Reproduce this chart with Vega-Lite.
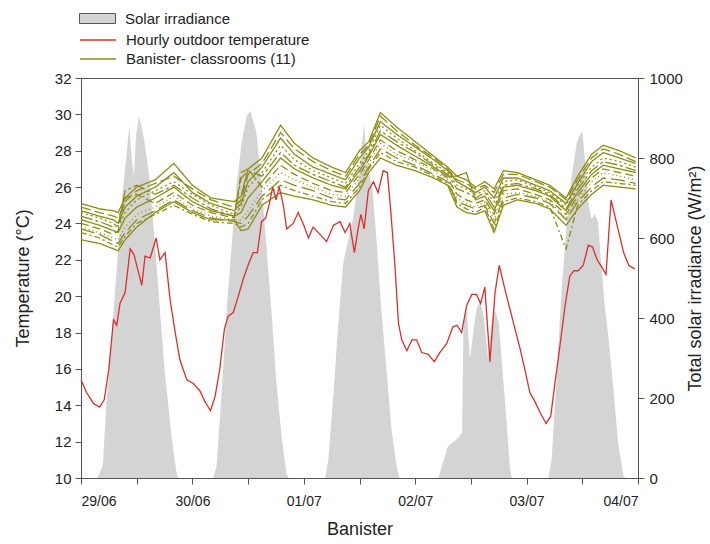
{
  "$schema": "https://vega.github.io/schema/vega-lite/v6.json",
  "width": 557,
  "height": 400,
  "autosize": {"type": "none"},
  "padding": {"left": 81, "top": 78, "right": 72, "bottom": 66},
  "background": "white",
  "config": {
    "font": "Liberation Sans",
    "view": {"stroke": "#555", "strokeWidth": 1},
    "axis": {
      "grid": false,
      "labelFont": "Liberation Sans",
      "titleFont": "Liberation Sans",
      "labelFontSize": 15,
      "titleFontSize": 18,
      "titleFontWeight": "normal",
      "labelColor": "#222",
      "titleColor": "#222",
      "domainColor": "#555",
      "tickColor": "#555",
      "tickSize": 6,
      "labelOverlap": false
    },
    "legend": {
      "labelFont": "Liberation Sans",
      "labelFontSize": 15,
      "labelColor": "#222",
      "labelLimit": 500,
      "padding": 0,
      "offset": 0
    }
  },
  "datasets": {
    "solar": [
      {"h": 0, "s": 0}, {"h": 3.5, "s": 0}, {"h": 4.7, "s": 30}, {"h": 5.4, "s": 172}, {"h": 6.5, "s": 338},
      {"h": 7.6, "s": 505}, {"h": 8.6, "s": 672}, {"h": 9.7, "s": 797}, {"h": 10.4, "s": 880}, {"h": 10.9, "s": 800},
      {"h": 11.4, "s": 755}, {"h": 11.9, "s": 860}, {"h": 12.5, "s": 905}, {"h": 13.6, "s": 847}, {"h": 14.7, "s": 755},
      {"h": 15.8, "s": 605}, {"h": 16.9, "s": 438}, {"h": 18, "s": 272}, {"h": 19.5, "s": 105}, {"h": 20.6, "s": 12},
      {"h": 21, "s": 0}, {"h": 28.5, "s": 0}, {"h": 29.2, "s": 30}, {"h": 30.3, "s": 213}, {"h": 31.4, "s": 422},
      {"h": 32.5, "s": 588}, {"h": 33.5, "s": 730}, {"h": 34.6, "s": 838}, {"h": 35.7, "s": 905}, {"h": 36.5, "s": 918},
      {"h": 37.8, "s": 863}, {"h": 38.9, "s": 730}, {"h": 40, "s": 572}, {"h": 41.1, "s": 405}, {"h": 42.1, "s": 238},
      {"h": 43.2, "s": 105}, {"h": 44.3, "s": 10}, {"h": 44.8, "s": 0}, {"h": 52.6, "s": 0}, {"h": 53.3, "s": 47},
      {"h": 54.4, "s": 213}, {"h": 55.4, "s": 380}, {"h": 56.5, "s": 538}, {"h": 57.2, "s": 575}, {"h": 58.7, "s": 655},
      {"h": 59.7, "s": 740}, {"h": 60.5, "s": 830}, {"h": 61, "s": 885}, {"h": 61.5, "s": 800}, {"h": 62.2, "s": 755},
      {"h": 62.8, "s": 720}, {"h": 63.7, "s": 588}, {"h": 64.7, "s": 422}, {"h": 65.8, "s": 272}, {"h": 66.9, "s": 122},
      {"h": 68, "s": 30}, {"h": 68.6, "s": 0}, {"h": 77, "s": 0}, {"h": 78, "s": 40}, {"h": 79.1, "s": 80},
      {"h": 80, "s": 88}, {"h": 81, "s": 97}, {"h": 82.1, "s": 113}, {"h": 82.4, "s": 390}, {"h": 83.1, "s": 420},
      {"h": 83.8, "s": 297}, {"h": 84.5, "s": 363}, {"h": 85.2, "s": 422}, {"h": 86, "s": 445}, {"h": 86.8, "s": 400},
      {"h": 87.7, "s": 300}, {"h": 88.4, "s": 380}, {"h": 89.2, "s": 420}, {"h": 90, "s": 390}, {"h": 90.6, "s": 300},
      {"h": 91.7, "s": 140}, {"h": 92.4, "s": 25}, {"h": 92.8, "s": 0}, {"h": 100.7, "s": 0}, {"h": 101.4, "s": 47},
      {"h": 102.5, "s": 255}, {"h": 103.5, "s": 463}, {"h": 104.6, "s": 630}, {"h": 105.7, "s": 755}, {"h": 106.8, "s": 838},
      {"h": 107.6, "s": 860}, {"h": 108, "s": 867}, {"h": 108.6, "s": 790}, {"h": 109.3, "s": 688}, {"h": 110, "s": 647},
      {"h": 110.7, "s": 660}, {"h": 111.4, "s": 640}, {"h": 112.1, "s": 530}, {"h": 112.9, "s": 422}, {"h": 113.6, "s": 355},
      {"h": 114.7, "s": 222}, {"h": 115.7, "s": 88}, {"h": 116.9, "s": 5}, {"h": 117.3, "s": 0}, {"h": 120, "s": 0}
    ],
    "outdoor": [
      {"h": 0, "t": 15.4}, {"h": 1.2, "t": 14.7}, {"h": 2.7, "t": 14.1}, {"h": 4, "t": 13.9}, {"h": 5, "t": 14.3},
      {"h": 6, "t": 16.0}, {"h": 7, "t": 18.7}, {"h": 7.7, "t": 18.4}, {"h": 8.4, "t": 19.6}, {"h": 9.5, "t": 20.2},
      {"h": 10.6, "t": 22.6}, {"h": 11.4, "t": 22.3}, {"h": 12.4, "t": 21.3}, {"h": 13.1, "t": 20.6}, {"h": 13.8, "t": 22.2},
      {"h": 14.9, "t": 22.1}, {"h": 16.2, "t": 23.2}, {"h": 17, "t": 22.0}, {"h": 18.1, "t": 22.4}, {"h": 19.2, "t": 19.8},
      {"h": 20.3, "t": 18.0}, {"h": 21.3, "t": 16.5}, {"h": 22.8, "t": 15.4}, {"h": 24.2, "t": 15.2}, {"h": 25.6, "t": 14.8},
      {"h": 26.7, "t": 14.2}, {"h": 27.9, "t": 13.7}, {"h": 28.9, "t": 14.5}, {"h": 29.9, "t": 16.0}, {"h": 30.9, "t": 18.2},
      {"h": 31.7, "t": 18.9}, {"h": 32.8, "t": 19.1}, {"h": 33.9, "t": 20.0}, {"h": 34.9, "t": 20.9}, {"h": 36, "t": 21.7},
      {"h": 37.1, "t": 22.4}, {"h": 38, "t": 22.4}, {"h": 38.9, "t": 24.1}, {"h": 39.8, "t": 24.3}, {"h": 40.6, "t": 25.1},
      {"h": 41.3, "t": 26.0}, {"h": 42, "t": 25.3}, {"h": 42.7, "t": 26.0}, {"h": 43.6, "t": 25.0}, {"h": 44.3, "t": 23.7},
      {"h": 45.7, "t": 24.0}, {"h": 46.8, "t": 24.6}, {"h": 48, "t": 23.9}, {"h": 49, "t": 23.2}, {"h": 50, "t": 23.8},
      {"h": 51.5, "t": 23.4}, {"h": 52.9, "t": 23.0}, {"h": 54.4, "t": 23.9}, {"h": 55.8, "t": 24.1}, {"h": 56.9, "t": 23.5},
      {"h": 57.9, "t": 24.0}, {"h": 58.9, "t": 22.4}, {"h": 59.7, "t": 23.7}, {"h": 60.3, "t": 24.5}, {"h": 61, "t": 23.7},
      {"h": 61.9, "t": 25.8}, {"h": 63, "t": 26.3}, {"h": 64, "t": 25.7}, {"h": 65.1, "t": 26.9}, {"h": 66, "t": 26.8},
      {"h": 66.7, "t": 24.8}, {"h": 67.6, "t": 21.8}, {"h": 68.4, "t": 18.5}, {"h": 69.1, "t": 17.6}, {"h": 70.2, "t": 17.0},
      {"h": 71.3, "t": 17.6}, {"h": 72.3, "t": 17.6}, {"h": 73.4, "t": 16.9}, {"h": 74.8, "t": 16.8}, {"h": 76.1, "t": 16.4},
      {"h": 77.3, "t": 16.9}, {"h": 78.8, "t": 17.4}, {"h": 80.1, "t": 18.3}, {"h": 81, "t": 18.4}, {"h": 82, "t": 18.0},
      {"h": 83.1, "t": 19.5}, {"h": 84.2, "t": 20.1}, {"h": 85.2, "t": 20.1}, {"h": 86.1, "t": 19.6}, {"h": 87, "t": 20.5},
      {"h": 88.1, "t": 16.4}, {"h": 89.2, "t": 20.2}, {"h": 90.1, "t": 21.7}, {"h": 91.3, "t": 20.4}, {"h": 92.4, "t": 19.3},
      {"h": 93.9, "t": 17.8}, {"h": 94.6, "t": 17.1}, {"h": 95.6, "t": 16.0}, {"h": 96.7, "t": 14.7}, {"h": 97.8, "t": 14.2},
      {"h": 98.9, "t": 13.6}, {"h": 100.2, "t": 13.0}, {"h": 101.2, "t": 13.4}, {"h": 102.1, "t": 15.2}, {"h": 103.2, "t": 17.3},
      {"h": 104.3, "t": 19.5}, {"h": 105.3, "t": 21.1}, {"h": 106.2, "t": 21.4}, {"h": 107.1, "t": 21.4}, {"h": 108.2, "t": 21.7},
      {"h": 109.3, "t": 22.8}, {"h": 110.2, "t": 22.7}, {"h": 111.2, "t": 22.0}, {"h": 112.2, "t": 21.6}, {"h": 113.1, "t": 21.2},
      {"h": 114.2, "t": 25.3}, {"h": 115.4, "t": 24.0}, {"h": 116.9, "t": 22.4}, {"h": 118, "t": 21.7}, {"h": 119.3, "t": 21.5}
    ],
    "rooms": [
      {"h": 0, "c1": 25.1, "c2": 24.9, "c3": 24.7, "c4": 24.6, "c5": 24.4, "c6": 24.2, "c7": 24.0, "c8": 23.8, "c9": 23.7, "c10": 23.5, "c11": 23.1},
      {"h": 4, "c1": 24.8, "c2": 24.6, "c3": 24.4, "c4": 24.3, "c5": 24.1, "c6": 23.9, "c7": 23.7, "c8": 23.5, "c9": 23.4, "c10": 23.2, "c11": 22.9},
      {"h": 7, "c1": 24.7, "c2": 24.4, "c3": 24.2, "c4": 24.0, "c5": 23.8, "c6": 23.6, "c7": 23.4, "c8": 23.2, "c9": 23.0, "c10": 22.8, "c11": 22.6},
      {"h": 8, "c1": 24.6, "c2": 24.3, "c3": 24.0, "c4": 23.8, "c5": 23.9, "c6": 23.5, "c7": 23.6, "c8": 23.1, "c9": 22.9, "c10": 22.7, "c11": 22.5},
      {"h": 9.5, "c1": 25.4, "c2": 25.2, "c3": 24.9, "c4": 24.6, "c5": 25.8, "c6": 24.3, "c7": 25.4, "c8": 23.8, "c9": 23.5, "c10": 23.3, "c11": 23.1},
      {"h": 12, "c1": 26.0, "c2": 25.8, "c3": 25.5, "c4": 25.3, "c5": 26.1, "c6": 24.9, "c7": 25.6, "c8": 24.5, "c9": 24.2, "c10": 24.0, "c11": 23.8},
      {"h": 16, "c1": 26.4, "c2": 26.2, "c3": 26.0, "c4": 25.8, "c5": 25.6, "c6": 25.4, "c7": 25.1, "c8": 24.9, "c9": 24.7, "c10": 24.5, "c11": 24.6},
      {"h": 20, "c1": 27.3, "c2": 26.6, "c3": 26.8, "c4": 26.3, "c5": 26.1, "c6": 26.0, "c7": 25.7, "c8": 25.5, "c9": 25.3, "c10": 25.0, "c11": 25.2},
      {"h": 24, "c1": 26.1, "c2": 25.9, "c3": 25.7, "c4": 25.6, "c5": 25.4, "c6": 25.2, "c7": 25.0, "c8": 24.8, "c9": 24.7, "c10": 24.5, "c11": 24.6},
      {"h": 28, "c1": 25.4, "c2": 25.3, "c3": 25.1, "c4": 25.0, "c5": 24.8, "c6": 24.7, "c7": 24.6, "c8": 24.4, "c9": 24.3, "c10": 24.1, "c11": 24.2},
      {"h": 33, "c1": 25.2, "c2": 24.9, "c3": 24.7, "c4": 24.5, "c5": 24.4, "c6": 24.4, "c7": 24.3, "c8": 24.2, "c9": 24.1, "c10": 24.0, "c11": 24.2},
      {"h": 34.5, "c1": 25.5, "c2": 25.3, "c3": 25.1, "c4": 24.9, "c5": 26.5, "c6": 24.6, "c7": 26.8, "c8": 24.2, "c9": 24.0, "c10": 23.8, "c11": 23.6},
      {"h": 36, "c1": 27.0, "c2": 26.7, "c3": 26.3, "c4": 26.0, "c5": 26.9, "c6": 25.4, "c7": 27.0, "c8": 24.7, "c9": 24.4, "c10": 24.0, "c11": 23.7},
      {"h": 39, "c1": 27.6, "c2": 27.3, "c3": 27.1, "c4": 26.8, "c5": 26.6, "c6": 26.3, "c7": 26.0, "c8": 25.8, "c9": 25.5, "c10": 25.3, "c11": 25.0},
      {"h": 43, "c1": 29.4, "c2": 29.0, "c3": 28.7, "c4": 28.3, "c5": 27.9, "c6": 27.6, "c7": 27.2, "c8": 26.8, "c9": 26.4, "c10": 26.1, "c11": 25.7},
      {"h": 46, "c1": 28.4, "c2": 28.1, "c3": 27.8, "c4": 27.5, "c5": 27.2, "c6": 27.0, "c7": 26.7, "c8": 26.4, "c9": 26.1, "c10": 25.8, "c11": 25.5},
      {"h": 50, "c1": 27.6, "c2": 27.4, "c3": 27.1, "c4": 26.9, "c5": 26.7, "c6": 26.5, "c7": 26.2, "c8": 26.0, "c9": 25.8, "c10": 25.5, "c11": 25.3},
      {"h": 54, "c1": 27.1, "c2": 26.9, "c3": 26.7, "c4": 26.5, "c5": 26.3, "c6": 26.1, "c7": 25.8, "c8": 25.6, "c9": 25.4, "c10": 25.2, "c11": 25.0},
      {"h": 57, "c1": 26.8, "c2": 26.6, "c3": 26.4, "c4": 26.2, "c5": 26.0, "c6": 25.9, "c7": 25.7, "c8": 25.5, "c9": 25.3, "c10": 25.1, "c11": 24.9},
      {"h": 60, "c1": 28.0, "c2": 27.8, "c3": 27.6, "c4": 27.3, "c5": 27.1, "c6": 26.9, "c7": 26.7, "c8": 26.5, "c9": 26.2, "c10": 26.0, "c11": 25.8},
      {"h": 62, "c1": 28.5, "c2": 28.3, "c3": 28.2, "c4": 28.0, "c5": 27.8, "c6": 27.7, "c7": 27.5, "c8": 27.3, "c9": 27.1, "c10": 27.0, "c11": 26.8},
      {"h": 64.5, "c1": 30.1, "c2": 29.9, "c3": 29.6, "c4": 29.4, "c5": 29.1, "c6": 28.9, "c7": 28.6, "c8": 28.4, "c9": 28.1, "c10": 27.9, "c11": 27.6},
      {"h": 68, "c1": 29.3, "c2": 29.1, "c3": 28.9, "c4": 28.7, "c5": 28.5, "c6": 28.3, "c7": 28.0, "c8": 27.8, "c9": 27.6, "c10": 27.4, "c11": 27.2},
      {"h": 72, "c1": 28.5, "c2": 28.3, "c3": 28.2, "c4": 28.0, "c5": 27.9, "c6": 27.7, "c7": 27.5, "c8": 27.4, "c9": 27.2, "c10": 27.1, "c11": 26.9},
      {"h": 76, "c1": 27.7, "c2": 27.6, "c3": 27.5, "c4": 27.3, "c5": 27.2, "c6": 27.1, "c7": 27.0, "c8": 26.9, "c9": 26.7, "c10": 26.6, "c11": 26.5},
      {"h": 79, "c1": 27.1, "c2": 27.0, "c3": 26.9, "c4": 26.8, "c5": 26.7, "c6": 26.6, "c7": 26.5, "c8": 26.4, "c9": 26.3, "c10": 26.2, "c11": 26.1},
      {"h": 81, "c1": 26.6, "c2": 26.4, "c3": 26.3, "c4": 26.1, "c5": 25.9, "c6": 26.6, "c7": 25.6, "c8": 25.4, "c9": 25.2, "c10": 25.1, "c11": 24.9},
      {"h": 83, "c1": 26.4, "c2": 26.2, "c3": 26.0, "c4": 25.9, "c5": 25.7, "c6": 26.8, "c7": 25.3, "c8": 25.1, "c9": 25.0, "c10": 24.8, "c11": 24.6},
      {"h": 85, "c1": 26.0, "c2": 25.9, "c3": 25.7, "c4": 25.6, "c5": 25.4, "c6": 25.3, "c7": 25.1, "c8": 24.9, "c9": 24.8, "c10": 24.6, "c11": 24.5},
      {"h": 87, "c1": 26.3, "c2": 26.1, "c3": 26.0, "c4": 25.8, "c5": 25.7, "c6": 25.5, "c7": 25.3, "c8": 25.2, "c9": 25.0, "c10": 24.9, "c11": 24.7},
      {"h": 89, "c1": 25.9, "c2": 25.7, "c3": 25.4, "c4": 25.2, "c5": 24.9, "c6": 24.7, "c7": 24.5, "c8": 24.2, "c9": 24.0, "c10": 23.7, "c11": 23.5},
      {"h": 91, "c1": 26.9, "c2": 26.7, "c3": 26.5, "c4": 26.3, "c5": 26.1, "c6": 26.0, "c7": 25.8, "c8": 25.6, "c9": 25.4, "c10": 25.2, "c11": 25.0},
      {"h": 94, "c1": 26.8, "c2": 26.7, "c3": 26.5, "c4": 26.4, "c5": 26.2, "c6": 26.1, "c7": 25.9, "c8": 25.7, "c9": 25.6, "c10": 25.4, "c11": 25.3},
      {"h": 98, "c1": 26.4, "c2": 26.3, "c3": 26.1, "c4": 26.0, "c5": 25.9, "c6": 25.8, "c7": 25.6, "c8": 25.5, "c9": 25.4, "c10": 25.2, "c11": 25.1},
      {"h": 101, "c1": 26.1, "c2": 26.0, "c3": 25.8, "c4": 25.7, "c5": 25.6, "c6": 25.5, "c7": 25.3, "c8": 25.2, "c9": 25.1, "c10": 24.9, "c11": 24.8},
      {"h": 104.5, "c1": 25.4, "c2": 25.3, "c3": 25.1, "c4": 25.0, "c5": 24.8, "c6": 24.7, "c7": 24.5, "c8": 24.3, "c9": 24.2, "c10": 22.6, "c11": 23.9},
      {"h": 107, "c1": 26.6, "c2": 26.4, "c3": 26.2, "c4": 26.1, "c5": 25.9, "c6": 25.7, "c7": 25.5, "c8": 25.3, "c9": 25.2, "c10": 25.0, "c11": 24.8},
      {"h": 110, "c1": 27.8, "c2": 27.6, "c3": 27.4, "c4": 27.1, "c5": 26.9, "c6": 26.7, "c7": 26.5, "c8": 26.3, "c9": 26.0, "c10": 25.8, "c11": 25.6},
      {"h": 112.5, "c1": 28.3, "c2": 28.1, "c3": 27.9, "c4": 27.6, "c5": 27.4, "c6": 27.2, "c7": 27.0, "c8": 26.8, "c9": 26.5, "c10": 26.3, "c11": 26.1},
      {"h": 116, "c1": 28.0, "c2": 27.8, "c3": 27.6, "c4": 27.4, "c5": 27.2, "c6": 27.0, "c7": 26.8, "c8": 26.6, "c9": 26.4, "c10": 26.2, "c11": 26.0},
      {"h": 119.5, "c1": 27.6, "c2": 27.4, "c3": 27.3, "c4": 27.1, "c5": 26.9, "c6": 26.8, "c7": 26.6, "c8": 26.4, "c9": 26.2, "c10": 26.1, "c11": 25.9}
    ]
  },
  "layer": [
    {
      "data": {"name": "solar"},
      "mark": {"type": "area", "interpolate": "linear"},
      "encoding": {
        "x": {"field": "h", "type": "quantitative", "title": "Banister",
              "scale": {"domain": [0, 120], "nice": false, "zero": false},
              "axis": {"values": [0, 12, 24, 36, 48, 60, 72, 84, 96, 108, 120],
                       "labelExpr": "datum.value % 24 == 0 ? ['29/06','30/06','01/07','02/07','03/07','04/07'][datum.value / 24] : ''",
                       "labelPadding": 10, "titlePadding": 12, "labelFontSize": 14}},
        "y": {"field": "s", "type": "quantitative", "title": "Total solar irradiance (W/m²)",
              "scale": {"domain": [0, 1000], "nice": false},
              "axis": {"orient": "right", "values": [0, 200, 400, 600, 800, 1000], "format": "d", "titleAngle": 270, "titlePadding": 22, "labelPadding": 5}},
        "fill": {"datum": "Solar irradiance", "type": "nominal",
                 "scale": {"domain": ["Solar irradiance"], "range": ["#d4d4d4"]},
                 "legend": {"title": null, "orient": "none", "legendX": 6, "legendY": -70,
                            "symbolType": "M-1.8,-0.5H1.8V0.5H-1.8Z", "symbolSize": 400,
                            "symbolStrokeColor": "#555", "symbolStrokeWidth": 1, "labelOffset": 17}}
      }
    },
    {
      "layer": [
        {
          "mark": {"type": "rule", "strokeDash": [12, 6], "strokeWidth": 1.3, "color": "#333"},
          "encoding": {
            "y": {"datum": 28, "type": "quantitative", "title": "Temperature (°C)",
                  "scale": {"domain": [10, 32], "nice": false},
                  "axis": {"values": [10, 12, 14, 16, 18, 20, 22, 24, 26, 28, 30, 32], "titlePadding": 22, "labelPadding": 4}}
          }
        },
        {
          "data": {"name": "rooms"},
          "transform": [{"fold": ["c1", "c2", "c3", "c4", "c5", "c6", "c7", "c8", "c9", "c10", "c11"], "as": ["room", "temp"]}],
          "mark": {"type": "line", "strokeWidth": 1.3},
          "encoding": {
            "x": {"field": "h", "type": "quantitative", "title": "Banister"},
            "y": {"field": "temp", "type": "quantitative", "title": "Temperature (°C)",
                  "scale": {"domain": [10, 32], "nice": false},
                  "axis": {"values": [10, 12, 14, 16, 18, 20, 22, 24, 26, 28, 30, 32], "titlePadding": 22, "labelPadding": 4}},
            "detail": {"field": "room", "type": "nominal"},
            "strokeDash": {"field": "room", "type": "nominal", "legend": null,
                           "scale": {"domain": ["c1", "c2", "c3", "c4", "c5", "c6", "c7", "c8", "c9", "c10", "c11"],
                                     "range": [[1, 0], [10, 4], [1, 0], [2, 3], [12, 3, 3, 3], [1, 0], [8, 4], [1, 3], [14, 5], [6, 3, 2, 3], [1, 0]]}},
            "stroke": {"datum": "Banister- classrooms (11)", "type": "nominal"}
          }
        },
        {
          "data": {"name": "outdoor"},
          "mark": {"type": "line", "strokeWidth": 1.3},
          "encoding": {
            "x": {"field": "h", "type": "quantitative", "title": "Banister"},
            "y": {"field": "t", "type": "quantitative", "title": "Temperature (°C)",
                  "scale": {"domain": [10, 32], "nice": false},
                  "axis": {"values": [10, 12, 14, 16, 18, 20, 22, 24, 26, 28, 30, 32], "titlePadding": 22, "labelPadding": 4}},
            "stroke": {"datum": "Hourly outdoor temperature", "type": "nominal",
                       "scale": {"domain": ["Hourly outdoor temperature", "Banister- classrooms (11)"], "range": ["#d9302c", "#8c8c14"]},
                       "legend": {"title": null, "orient": "none", "legendX": 6, "legendY": -49,
                                  "symbolType": "M-1.8,0H1.8", "symbolSize": 400, "symbolStrokeWidth": 1.5,
                                  "labelOffset": 17, "rowPadding": 0}}
          }
        }
      ]
    }
  ],
  "resolve": {"scale": {"y": "independent"}}
}
